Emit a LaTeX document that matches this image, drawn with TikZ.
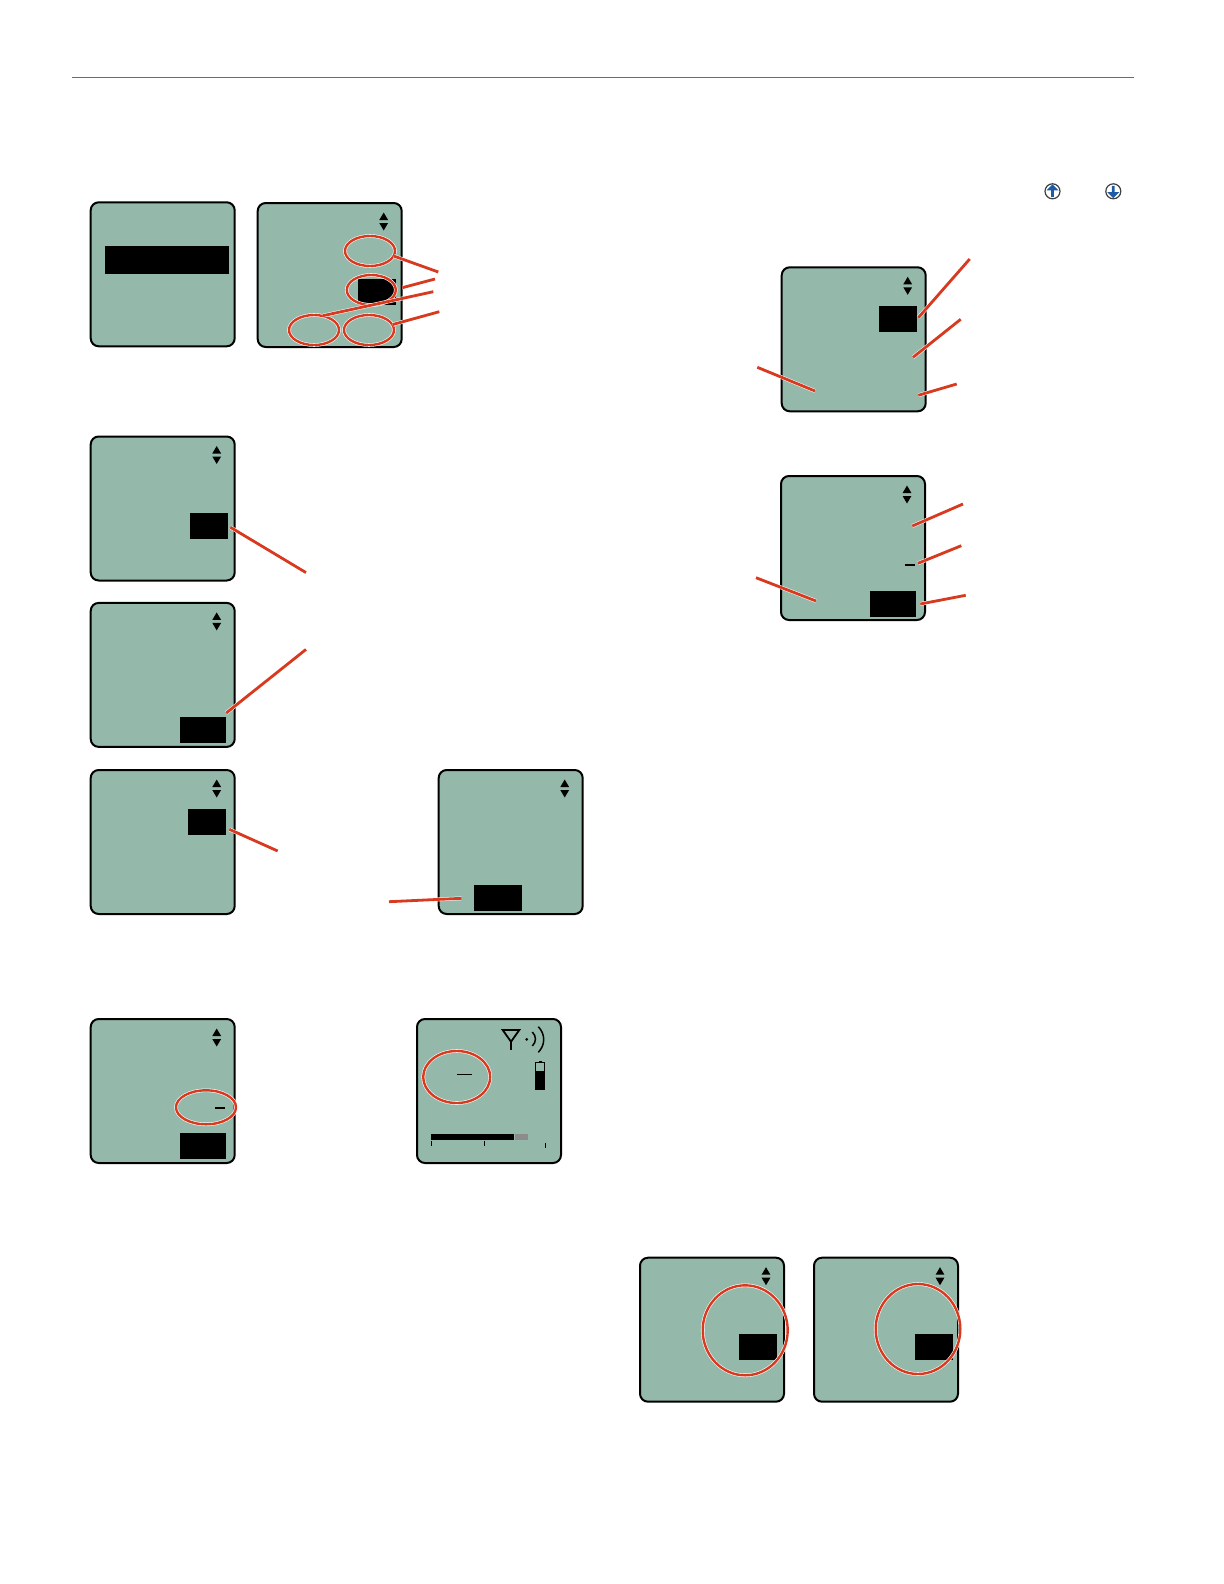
\documentclass[tikz,border=0pt]{standalone}
\usepackage{xcolor}
\definecolor{lcdgreen}{RGB}{148, 184, 170}
\definecolor{ledred}{RGB}{216, 58, 32}
\definecolor{rulecyan}{RGB}{38, 130, 180}
\definecolor{btnblue}{RGB}{30, 90, 165}
\usepackage{tikz}
\usetikzlibrary{
    shapes.geometric,
    shapes.arrows,
    positioning,
    calc
}
\tikzset{
    lcd/.style={draw=black,line width=1pt,rounded corners=4pt,fill=lcdgreen,minimum size=72pt,anchor=north west,inner sep=0pt},
    solidbox/.style={fill=black,anchor=north west,inner sep=0pt,minimum height=13pt,minimum width=#1},
    solidbox/.default=19pt,
    ledoval/.style={ellipse,draw=white,double=ledred,double distance=1.2pt,line width=.3pt,inner sep=0pt},
    leader/.style={draw=white,double=ledred,double distance=1.4pt,line width=.25pt},
    bluebtn/.style={circle,draw=black!75,fill=white,line width=.6pt,minimum size=7.5pt,inner sep=0pt},
    bluearrow/.style={single arrow,fill=btnblue,minimum height=6.2pt,minimum width=6pt,single arrow head extend=.7pt,inner sep=0pt}
}

\begin{document}
\begin{tikzpicture}[x=0.5pt,y=-0.5pt]
    \useasboundingbox (0,0) rectangle (1224,1584);
    \coordinate (ruleL) at (72,77.5);
    \coordinate (ruleR) at (1134,77.5);
    \draw[rulecyan,line width=.6pt] (ruleL) -- (ruleR);

    \node[bluebtn] (btnUp) at (1052.5,191.3) {};
    \node[bluearrow,shape border rotate=90] (arrUp) at (btnUp) {};
    \node[bluebtn] (btnDown) at (1113.3,191.3) {};
    \node[bluearrow,shape border rotate=270] (arrDown) at (btnDown) {};

    \node[lcd] (scrA) at (89.7,201.3) {};
    \node[lcd] (scrB) at (256.7,202) {};
    \node[lcd] (scrC) at (89.7,435.5) {};
    \node[lcd] (scrD) at (89.7,601.9) {};
    \node[lcd] (scrE) at (89.7,769) {};
    \node[lcd] (scrF) at (437.7,769) {};
    \node[lcd] (scrG) at (89.7,1018) {};
    \node[lcd] (scrH) at (416,1018) {};
    \node[lcd] (scrI) at (780.7,266.3) {};
    \node[lcd] (scrJ) at (780,475) {};
    \node[lcd] (scrK) at (639,1256.7) {};
    \node[lcd] (scrL) at (813,1256.7) {};

    \foreach \s in {scrB,scrC,scrD,scrE,scrF,scrG,scrI,scrJ,scrK,scrL} {
        \fill ([shift={(-19,10.5)}]\s.north east) -- ([shift={(-14.6,18)}]\s.north east) -- ([shift={(-23.4,18)}]\s.north east) -- cycle;
        \fill ([shift={(-19,28.5)}]\s.north east) -- ([shift={(-14.6,21)}]\s.north east) -- ([shift={(-23.4,21)}]\s.north east) -- cycle;
    }

    \node[solidbox=62pt,minimum height=14pt] (barA) at (105,245.7) {};
    \node[solidbox] (boxB) at (357.3,279) {};
    \node[solidbox] (boxC) at (189.9,513) {};
    \node[solidbox=23pt] (boxD) at (179.8,717) {};
    \node[solidbox] (boxE) at (188,809) {};
    \node[solidbox=24pt] (boxF) at (474,885) {};
    \node[solidbox=23pt] (boxG) at (180,1133) {};
    \node[solidbox] (boxI) at (879,306) {};
    \node[solidbox=23pt] (boxJ) at (870,591) {};
    \node[solidbox] (boxK) at (739,1334) {};
    \node[solidbox] (boxL) at (915,1334) {};

    \node[fill=black,inner sep=0pt,minimum width=5pt,minimum height=1pt] (dashG) at (220.3,1107.7) {};
    \node[fill=black,inner sep=0pt,minimum width=5pt,minimum height=1pt] (dashJ) at (910,565) {};
    \node[fill=black,inner sep=0pt,minimum width=7.4pt,minimum height=.5pt] (dashH) at (464.7,1074) {};

    % status icons of the last screen
    \draw[line width=.9pt,line join=miter] (502.7,1030) -- (519.3,1030) -- (511,1041.7) -- cycle;
    \draw[line width=.9pt] (511,1041.7) -- (511,1050);
    \fill (526.7,1039.3) circle (1.5);
    \draw[line width=.75pt] (532.3,1032) .. controls (536.5,1036) and (536.5,1042) .. (532.3,1046);
    \draw[line width=.75pt] (538.3,1026.7) .. controls (545.5,1034) and (545.5,1045) .. (538.3,1052.3);
    \node[draw=black,line width=.5pt,fill=lcdgreen,anchor=north west,inner sep=0pt,minimum width=4.3pt,minimum height=13.3pt] (battH) at (535.3,1062.3) {};
    \node[fill=black,anchor=south,inner sep=0pt,minimum width=4.3pt,minimum height=9.5pt] (battFill) at (battH.south) {};
    \node[fill=black,anchor=south,inner sep=0pt,minimum width=1.5pt,minimum height=.6pt] (battCap) at (battH.north) {};
    \node[fill=black,anchor=north west,inner sep=0pt,minimum width=41.5pt,minimum height=3pt] (rfBar) at (431,1134) {};
    \node[fill=black!45,anchor=north west,inner sep=0pt,minimum width=6.5pt,minimum height=3pt] (rfPeak) at (rfBar.north east) {};
    \draw[line width=.4pt] (rfBar.south west) ++(.7,0) -- ++(0,5);
    \draw[line width=.4pt] (rfBar.south west) ++(53.3,0) -- ++(0,5);
    \draw[line width=.4pt] (rfBar.south west) ++(114.3,2) -- ++(0,5);

    \node[ledoval,minimum width=25pt,minimum height=15pt] (ovalB1) at (370,251) {};
    \node[ledoval,minimum width=24.5pt,minimum height=15pt] (ovalB2) at (371.3,290) {};
    \node[ledoval,minimum width=25pt,minimum height=15pt] (ovalB3) at (314,330) {};
    \node[ledoval,minimum width=25pt,minimum height=15pt] (ovalB4) at (369,330) {};
    \node[ledoval,minimum width=30pt,minimum height=17pt] (ovalG) at (206,1107.3) {};
    \node[ledoval,minimum width=33.5pt,minimum height=26pt] (ovalH) at (456.7,1077) {};
    \node[ledoval,minimum width=42.5pt,minimum height=45pt] (ringK) at (745.2,1330.3) {};
    \node[ledoval,minimum width=42.3pt,minimum height=45pt] (ringL) at (918,1329) {};

    \coordinate (tipB1) at (438.3,272);
    \coordinate (startB2) at (402.3,287.7);
    \coordinate (tipB2) at (435,279);
    \coordinate (tipB3) at (433.3,291.7);
    \coordinate (tipB4) at (439.3,311.7);
    \draw[leader] (ovalB1.-12) -- (tipB1);
    \draw[leader] (startB2) -- (tipB2);
    \draw[leader] (ovalB3.58) -- (tipB3);
    \draw[leader] (ovalB4.13) -- (tipB4);

    \coordinate (startC) at (230.3,527.2);
    \coordinate (tipC) at (306,572.6);
    \coordinate (startD) at (226.2,713);
    \coordinate (tipD) at (306,649.4);
    \coordinate (startE) at (229.3,829.3);
    \coordinate (tipE) at (277.7,851);
    \coordinate (startF) at (461.7,898.3);
    \coordinate (tipF) at (389,901.7);
    \draw[leader] (startC) -- (tipC);
    \draw[leader] (startD) -- (tipD);
    \draw[leader] (startE) -- (tipE);
    \draw[leader] (startF) -- (tipF);

    \coordinate (startI1) at (918.3,317.7);
    \coordinate (tipI1) at (969.7,259);
    \coordinate (startI2) at (913,357.3);
    \coordinate (tipI2) at (960.7,319.3);
    \coordinate (startI3) at (918.3,395.3);
    \coordinate (tipI3) at (956.7,384);
    \coordinate (startI4) at (815,391);
    \coordinate (tipI4) at (757.3,367.3);
    \draw[leader] (startI1) -- (tipI1);
    \draw[leader] (startI2) -- (tipI2);
    \draw[leader] (startI3) -- (tipI3);
    \draw[leader] (startI4) -- (tipI4);

    \coordinate (startJ1) at (912.3,526);
    \coordinate (tipJ1) at (963,504);
    \coordinate (startJ2) at (918,563.3);
    \coordinate (tipJ2) at (961.3,545.7);
    \coordinate (startJ3) at (920.3,604);
    \coordinate (tipJ3) at (965.7,595.3);
    \coordinate (startJ4) at (816,601);
    \coordinate (tipJ4) at (756,577.7);
    \draw[leader] (startJ1) -- (tipJ1);
    \draw[leader] (startJ2) -- (tipJ2);
    \draw[leader] (startJ3) -- (tipJ3);
    \draw[leader] (startJ4) -- (tipJ4);
\end{tikzpicture}
\end{document}
